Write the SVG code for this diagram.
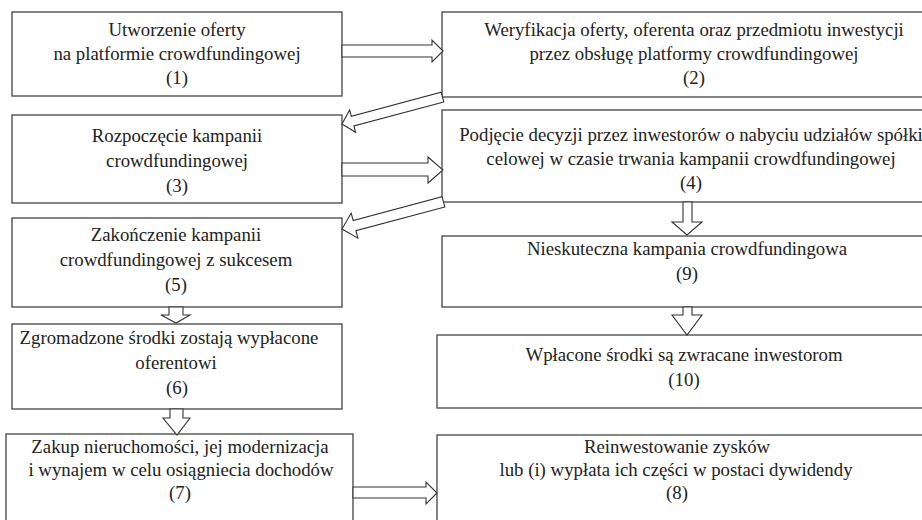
<svg xmlns="http://www.w3.org/2000/svg" width="922" height="520" viewBox="0 0 922 520">
<style>
.box{fill:#fff;stroke:#444;stroke-width:1.3}
.arr{fill:#fff;stroke:#333;stroke-width:1.1;stroke-linejoin:miter}
.t{font-size:18.8px;fill:#222;text-anchor:middle}
</style>
<rect width="922" height="520" fill="#fff"/>
<g font-family="Liberation Serif, Tinos, Times New Roman, Times, DejaVu Serif, serif" class="t">
<g id="n1"><rect class="box" x="12" y="12" width="330" height="84"/>
<text x="177" y="36">Utworzenie oferty</text><text x="177" y="60">na platformie crowdfundingowej</text><text x="177" y="84">(1)</text></g>
<g id="n2"><rect class="box" x="442" y="12" width="520" height="85"/>
<text x="694" y="36">Weryfikacja oferty, oferenta oraz przedmiotu inwestycji</text><text x="694" y="60">przez obsługę platformy crowdfundingowej</text><text x="694" y="84">(2)</text></g>
<g id="n3"><rect class="box" x="12" y="115" width="330" height="88"/>
<text x="177" y="142">Rozpoczęcie kampanii</text><text x="177" y="167">crowdfundingowej</text><text x="177" y="192">(3)</text></g>
<g id="n4"><rect class="box" x="442" y="110" width="520" height="92"/>
<text x="691" y="141">Podjęcie decyzji przez inwestorów o nabyciu udziałów spółki</text><text x="691" y="165">celowej w czasie trwania kampanii crowdfundingowej</text><text x="691" y="189">(4)</text></g>
<g id="n5"><rect class="box" x="12" y="218" width="330" height="89"/>
<text x="176" y="241">Zakończenie kampanii</text><text x="176" y="266">crowdfundingowej z sukcesem</text><text x="176" y="291">(5)</text></g>
<g id="n9"><rect class="box" x="442" y="236" width="520" height="71"/>
<text x="687" y="255">Nieskuteczna kampania crowdfundingowa</text><text x="687" y="280">(9)</text></g>
<g id="n6"><rect class="box" x="12" y="324" width="330" height="85"/>
<text x="169" y="344">Zgromadzone środki zostają wypłacone</text><text x="176" y="369">oferentowi</text><text x="177" y="394">(6)</text></g>
<g id="n10"><rect class="box" x="437" y="335" width="525" height="73"/>
<text x="684" y="361">Wpłacone środki są zwracane inwestorom</text><text x="684" y="386">(10)</text></g>
<g id="n7"><rect class="box" x="6" y="434" width="347" height="100"/>
<text x="180" y="453">Zakup nieruchomości, jej modernizacja</text><text x="181" y="476">i wynajem w celu osiągniecia dochodów</text><text x="180" y="499">(7)</text></g>
<g id="n8"><rect class="box" x="437" y="435" width="525" height="100"/>
<text x="677" y="453">Reinwestowanie zysków</text><text x="676" y="476">lub (i) wypłata ich części w postaci dywidendy</text><text x="677" y="499">(8)</text></g>
</g>
<g id="connectors">
<polygon class="arr" points="342,45 432,45 432,40 443,51 432,62 432,57 342,57"/>
<polygon class="arr" transform="translate(342,124) rotate(165)" points="-104,-5 -11,-5 -11,-11.5 0,0 -11,11.5 -11,5 -104,5"/>
<polygon class="arr" points="342,163 428,163 428,157 443,170 428,183 428,176 342,176"/>
<polygon class="arr" transform="translate(342,229) rotate(165)" points="-105,-5.3 -13,-5.3 -13,-13 0,0 -13,13 -13,5.3 -105,5.3"/>
<polygon class="arr" points="683,202 692,202 692,222 702,222 687,235 672,222 683,222"/>
<polygon class="arr" points="169,307 183,307 183,315 190,315 176,323 161,315 169,315"/>
<polygon class="arr" points="683,307 692,307 692,315 702,315 687,335 672,315 683,315"/>
<polygon class="arr" points="170,409 183,409 183,418 190,418 177,435 163,418 170,418"/>
<polygon class="arr" points="353,487 426,487 426,482 437,493 426,504 426,498 353,498"/>
</g>
</svg>
